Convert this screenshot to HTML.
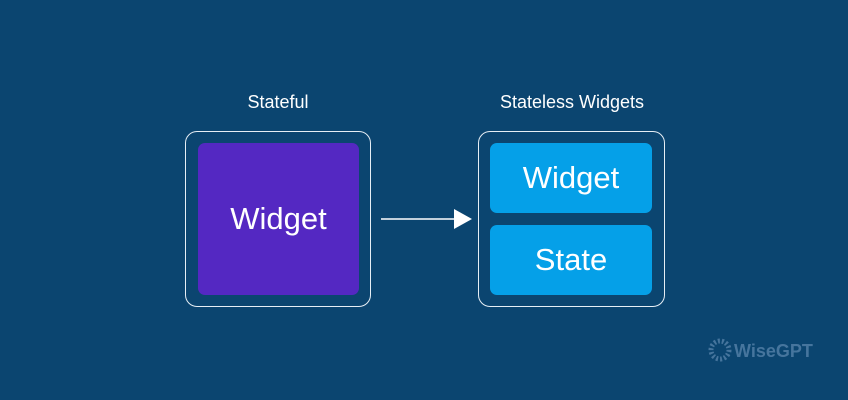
<!DOCTYPE html>
<html><head><style>
body{margin:0;width:848px;height:400px;background:#0b4570;font-family:"Liberation Sans",sans-serif;position:relative;overflow:hidden;color:#fff}
.a{position:absolute;box-sizing:border-box}
.o{border:1.5px solid #e6eef5;border-radius:12px}
.c{display:flex;align-items:center;justify-content:center}
</style></head><body>
<div class="a" style="left:185px;top:92px;width:186px;text-align:center;font-size:18px">Stateful</div>
<div class="a" style="left:472px;top:92px;width:200px;text-align:center;font-size:18px">Stateless Widgets</div>
<div class="a o" style="left:185px;top:131px;width:186px;height:176px"></div>
<div class="a c" style="left:198px;top:143px;width:161px;height:152px;background:#5428c2;border-radius:7px;font-size:31px">Widget</div>
<div class="a o" style="left:478px;top:131px;width:187px;height:176px"></div>
<div class="a c" style="left:490px;top:143px;width:162px;height:70px;background:#05a0e8;border-radius:7px;font-size:31px">Widget</div>
<div class="a c" style="left:490px;top:225px;width:162px;height:70px;background:#05a0e8;border-radius:7px;font-size:31px">State</div>
<svg class="a" style="left:0;top:0" width="848" height="400">
<line x1="381" y1="219" x2="458" y2="219" stroke="#fff" stroke-width="1.5"/>
<polygon points="454,209 472,219 454,229" fill="#fff"/>
<circle cx="720" cy="350" r="9" fill="none" stroke="#46759d" stroke-width="5" stroke-dasharray="2 2"/>
<text x="734" y="357" fill="#46759d" font-size="18" font-weight="bold" font-family="Liberation Sans">WiseGPT</text>
</svg>
</body></html>
